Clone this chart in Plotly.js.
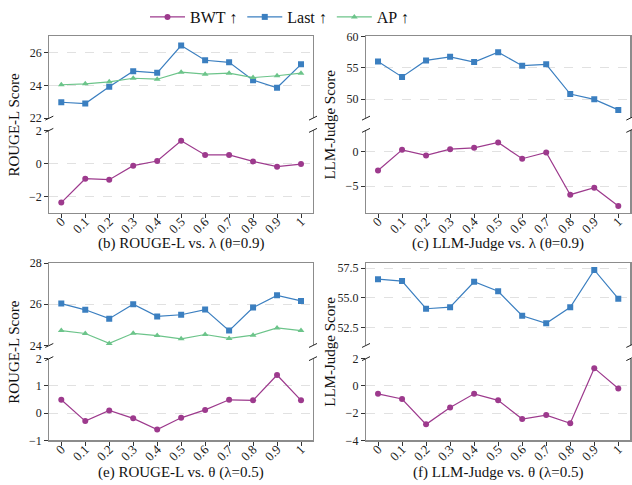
<!DOCTYPE html>
<html>
<head>
<meta charset="utf-8">
<script src="https://cdn.plot.ly/plotly-3.0.1.min.js"></script>
<style>html,body{margin:0;padding:0;background:#fff;}#chart{width:632px;height:485px;}</style>
</head>
<body>
<div id="chart"></div>
<script>
// ---------- data ----------
const xVals = [0, 0.1, 0.2, 0.3, 0.4, 0.5, 0.6, 0.7, 0.8, 0.9, 1];
const xTickText = ['0', '0.1', '0.2', '0.3', '0.4', '0.5', '0.6', '0.7', '0.8', '0.9', '1'];

const seriesNames = ['BWT ↑', 'Last ↑', 'AP ↑'];

// (b) ROUGE-L vs. λ (θ=0.9)
const bLast = [22.97, 22.89, 23.92, 24.87, 24.77, 26.44, 25.54, 25.41, 24.32, 23.86, 25.29];
const bAP   = [24.04, 24.10, 24.22, 24.44, 24.38, 24.81, 24.69, 24.75, 24.48, 24.59, 24.75];
const bBWT  = [-2.38, -0.93, -0.99, -0.14, 0.14, 1.37, 0.51, 0.51, 0.12, -0.20, -0.04];

// (c) LLM-Judge vs. λ (θ=0.9)
const cLast = [56.0, 53.53, 56.16, 56.74, 55.89, 57.47, 55.32, 55.53, 50.79, 49.95, 48.26];
const cBWT  = [-2.76, 0.24, -0.57, 0.33, 0.52, 1.29, -1.05, -0.14, -6.24, -5.24, -7.86];

// (e) ROUGE-L vs. θ (λ=0.5)
const eLast = [26.03, 25.73, 25.30, 26.0, 25.41, 25.49, 25.74, 24.72, 25.84, 26.43, 26.16];
const eAP   = [24.72, 24.58, 24.10, 24.59, 24.48, 24.32, 24.53, 24.34, 24.50, 24.85, 24.72];
const eBWT  = [0.49, -0.29, 0.10, -0.19, -0.60, -0.17, 0.12, 0.49, 0.47, 1.40, 0.47];

// (f) LLM-Judge vs. θ (λ=0.5)
const fLast = [56.58, 56.42, 54.09, 54.22, 56.36, 55.56, 53.50, 52.86, 54.22, 57.36, 54.94];
const fBWT  = [-0.58, -0.96, -2.82, -1.59, -0.58, -1.06, -2.43, -2.14, -2.74, 1.30, -0.19];

const panelTitles = ['(b) ROUGE-L vs. λ (θ=0.9)', '(c) LLM-Judge vs. λ (θ=0.9)',
                     '(e) ROUGE-L vs. θ (λ=0.5)', '(f) LLM-Judge vs. θ (λ=0.5)'];
const yTitles = ['ROUGE-L Score', 'LLM-Judge Score', 'ROUGE-L Score', 'LLM-Judge Score'];

// ---------- styling / layout ----------
const W = 632, H = 485;
const colors = {bwt: '#9d3a8d', last: '#3b7fc0', ap: '#6cc48a'};
const FONT = 'Liberation Serif';

const px = v => v / W;
const py = v => 1 - v / H;

const colDom = [[px(49.3), px(313)], [px(366), px(630.3)]];
const rowDom = [
  {top: [py(114.3), py(31.7)], bot: [py(210), py(126.7)]},
  {top: [py(344), py(260.7)], bot: [py(440), py(357.3)]}
];

const panels = [
  {col: 0, row: 0, top: [{y: bLast, k: 'last'}, {y: bAP, k: 'ap'}], bot: [{y: bBWT, k: 'bwt'}],
   topRange: [22, 27], topDtick: 2, topFmt: '', botRange: [-3, 2], botDtick: 2},
  {col: 1, row: 0, top: [{y: cLast, k: 'last'}], bot: [{y: cBWT, k: 'bwt'}],
   topRange: [46.95, 60], topDtick: 5, topFmt: '', botRange: [-8.86, 3.04], botDtick: 5},
  {col: 0, row: 1, top: [{y: eLast, k: 'last'}, {y: eAP, k: 'ap'}], bot: [{y: eBWT, k: 'bwt'}],
   topRange: [24, 28], topDtick: 2, topFmt: '', botRange: [-1, 2], botDtick: 1},
  {col: 1, row: 1, top: [{y: fLast, k: 'last'}], bot: [{y: fBWT, k: 'bwt'}],
   topRange: [51.0, 57.94], topDtick: 2.5, topFmt: '.1f', botRange: [-4, 2], botDtick: 2}
];

const nameOf = {bwt: seriesNames[0], last: seriesNames[1], ap: seriesNames[2]};
const symOf = {bwt: 'circle', last: 'square', ap: 'triangle-up'};
const rankOf = {bwt: 1, last: 2, ap: 3};
const legendShown = {};

const traces = [];
const layout = {
  width: W, height: H,
  margin: {l: 0, r: 0, t: 0, b: 0},
  paper_bgcolor: '#fff', plot_bgcolor: '#fff',
  font: {family: FONT, size: 13, color: '#222'},
  showlegend: true,
  legend: {orientation: 'h', x: px(145), xanchor: 'left', y: py(12), yanchor: 'middle',
           font: {family: FONT, size: 16, color: '#111'}, traceorder: 'normal',
           itemwidth: 35, bgcolor: 'rgba(0,0,0,0)'},
  annotations: [],
  shapes: []
};

const axLine = '#8c8c8c';
let axIdx = 1;
panels.forEach((p, pi) => {
  const xd = colDom[p.col];
  const rd = rowDom[p.row];
  const bi = axIdx++, ti = axIdx++;
  const bx = 'x' + (bi === 1 ? '' : bi), by = 'y' + (bi === 1 ? '' : bi);
  const tx = 'x' + ti, ty = 'y' + ti;
  const bxKey = 'xaxis' + (bi === 1 ? '' : bi), byKey = 'yaxis' + (bi === 1 ? '' : bi);
  const txKey = 'xaxis' + ti, tyKey = 'yaxis' + ti;

  const baseX = {
    domain: xd, range: [-0.05, 1.05], tickmode: 'array', tickvals: xVals, ticktext: xTickText,
    showgrid: false, zeroline: false, linecolor: axLine, linewidth: 1.2, showline: true,
  };
  layout[bxKey] = Object.assign({}, baseX, {
    anchor: by, side: 'bottom', ticks: 'outside', ticklen: 4, tickcolor: '#333', tickwidth: 1,
    tickangle: -45, tickfont: {family: FONT, size: 13, color: '#222'}, mirror: false,
    ticklabelstandoff: -9
  });
  layout[txKey] = Object.assign({}, baseX, {
    anchor: ty, side: 'top', ticks: '', showticklabels: false, matches: bx, mirror: false
  });
  const baseY = {
    showgrid: true, gridcolor: '#d9d9d9', griddash: 'dash', gridwidth: 0.8,
    zeroline: false, showline: true, mirror: true, linecolor: axLine, linewidth: 1.2,
    ticks: 'outside', ticklen: 4, tickcolor: '#333', tickwidth: 1
  };
  layout[byKey] = Object.assign({}, baseY, {
    domain: rd.bot, anchor: bx, range: p.botRange, dtick: p.botDtick, tick0: 0,
    tickfont: {family: FONT, size: 12, color: '#222'}
  });
  layout[tyKey] = Object.assign({}, baseY, {
    domain: rd.top, anchor: tx, range: p.topRange, dtick: p.topDtick, tick0: 0,
    tickformat: p.topFmt, tickfont: {family: FONT, size: 12, color: '#222'}
  });

  const addTrace = (s, xa, ya) => {
    const show = !legendShown[s.k];
    legendShown[s.k] = true;
    traces.push({
      x: xVals, y: s.y, xaxis: xa, yaxis: ya, type: 'scatter', mode: 'lines+markers',
      name: nameOf[s.k], showlegend: show, legendrank: rankOf[s.k],
      line: {color: colors[s.k], width: 1.2},
      marker: {color: colors[s.k], symbol: symOf[s.k], size: 6}
    });
  };
  p.bot.forEach(s => addTrace(s, bx, by));
  p.top.forEach(s => addTrace(s, tx, ty));

  // break marks
  const yA = rd.top[0], yB = rd.bot[1];
  [xd[0], xd[1]].forEach(xx => {
    [yA, yB].forEach(yy => {
      layout.shapes.push({type: 'line', xref: 'paper', yref: 'paper',
        x0: xx - px(4), y0: yy - 2 / H, x1: xx + px(4), y1: yy + 2 / H,
        line: {color: '#222', width: 1}});
    });
  });

  // panel title
  const titleY = p.row === 0 ? 241 : 472;
  layout.annotations.push({text: panelTitles[pi], xref: 'paper', yref: 'paper',
    x: (xd[0] + xd[1]) / 2, y: py(titleY), xanchor: 'center', yanchor: 'middle',
    showarrow: false, font: {family: FONT, size: 15, color: '#111'}});
  // y title
  const yCenter = p.row === 0 ? (31.7 + 210) / 2 : (260.7 + 440) / 2;
  layout.annotations.push({text: yTitles[pi], xref: 'paper', yref: 'paper',
    x: px(p.col === 0 ? 14 : 330), y: py(yCenter), xanchor: 'center', yanchor: 'middle',
    textangle: -90, showarrow: false, font: {family: FONT, size: 15, color: '#111'}});
});

Plotly.newPlot('chart', traces, layout, {displayModeBar: false, staticPlot: true});
</script>
</body>
</html>
